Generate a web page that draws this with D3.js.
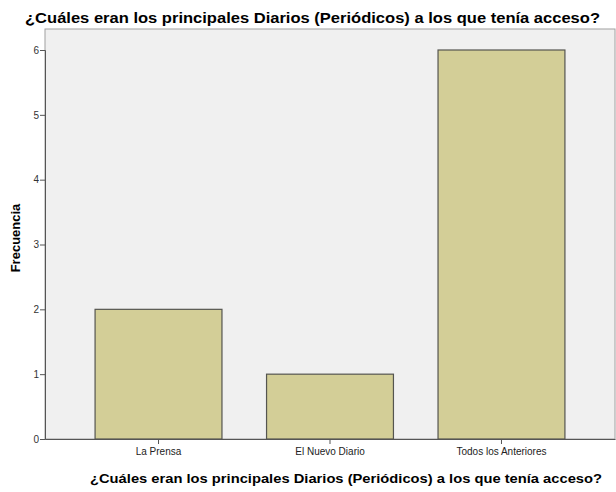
<!DOCTYPE html>
<html>
<head>
<meta charset="utf-8">
<script src="https://cdn.jsdelivr.net/npm/d3@7"></script>
<style>
  body { margin: 0; background: #fff; }
  text { font-family: "Liberation Sans", Arial, sans-serif; }
</style>
</head>
<body>
<svg id="chart" width="616" height="492"></svg>
<script>
const categories = ["La Prensa", "El Nuevo Diario", "Todos los Anteriores"];
const values = [2, 1, 6];
const yTicks = [0, 1, 2, 3, 4, 5, 6];
const titleText = "¿Cuáles eran los principales Diarios (Periódicos) a los que tenía acceso?";

const svg = d3.select("#chart");
const m = {left: 45, right: 615, top: 29, bottom: 439};

const x = d3.scaleBand().domain(categories).range([m.left, m.right])
    .paddingInner(0.26).paddingOuter(0.292);
const y = d3.scaleLinear().domain([0, 6]).range([m.bottom, 50]);

// plot background
svg.append("rect")
    .attr("x", m.left).attr("y", m.top)
    .attr("width", m.right - m.left).attr("height", m.bottom - m.top)
    .attr("fill", "#f0f0f0")
    .attr("stroke", "#a0a0a0");

svg.selectAll("rect.bar")
    .data(values)
    .enter().append("rect")
    .attr("class", "bar")
    .attr("x", (d, i) => x(categories[i]))
    .attr("y", d => y(d))
    .attr("width", x.bandwidth())
    .attr("height", d => y(0) - y(d))
    .attr("fill", "#d3ce97")
    .attr("stroke", "#555550")
    .attr("stroke-width", 1.2);

const yAxis = svg.append("g")
    .attr("transform", `translate(${m.left},0)`)
    .call(d3.axisLeft(y).tickValues(yTicks).tickSize(5).tickFormat(d3.format("d")));
yAxis.select(".domain").attr("stroke", "#555");
yAxis.selectAll(".tick line").attr("stroke", "#555");
yAxis.selectAll("text").attr("fill", "#333").style("font-size", "10px").attr("x", -6);

const xAxis = svg.append("g")
    .attr("transform", `translate(0,${m.bottom})`)
    .call(d3.axisBottom(x).tickSize(5).tickSizeOuter(0));
xAxis.select(".domain").attr("stroke", "#555");
xAxis.selectAll(".tick line").attr("stroke", "#555");
xAxis.selectAll("text").attr("fill", "#222").style("font-size", "10px").attr("y", 9);

// chart title
svg.append("text")
    .attr("x", 25).attr("y", 23)
    .attr("textLength", 575).attr("lengthAdjust", "spacingAndGlyphs")
    .style("font-size", "15px").style("font-weight", "bold")
    .attr("fill", "#000")
    .text(titleText);

// x axis title
svg.append("text")
    .attr("x", 90).attr("y", 483)
    .attr("textLength", 512).attr("lengthAdjust", "spacingAndGlyphs")
    .style("font-size", "13px").style("font-weight", "bold")
    .attr("fill", "#000")
    .text(titleText);

svg.append("text")
    .attr("transform", "translate(20,238) rotate(-90)")
    .attr("text-anchor", "middle")
    .style("font-size", "13px").style("font-weight", "bold")
    .attr("fill", "#000")
    .text("Frecuencia");
</script>
</body>
</html>
